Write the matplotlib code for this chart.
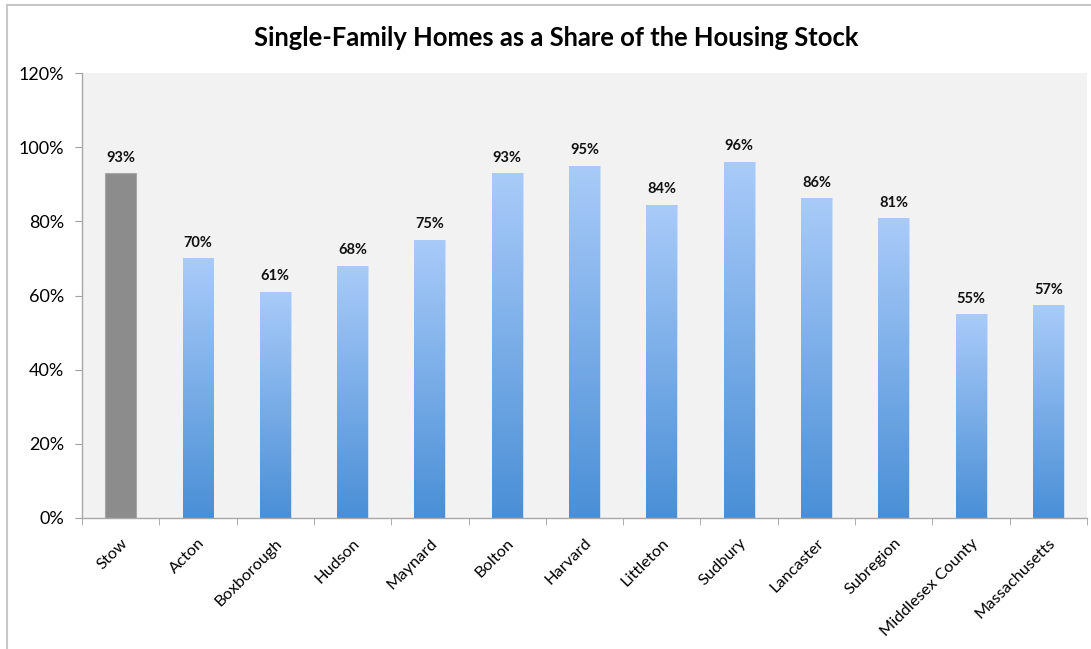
import matplotlib
matplotlib.use("Agg")
import matplotlib.pyplot as plt
import numpy as np
from matplotlib.colors import LinearSegmentedColormap
from matplotlib.lines import Line2D

categories = ["Stow", "Acton", "Boxborough", "Hudson", "Maynard", "Bolton", "Harvard",
              "Littleton", "Sudbury", "Lancaster", "Subregion", "Middlesex County", "Massachusetts"]
values = [93, 70, 61, 68, 75, 93, 95, 84.5, 96, 86.2, 80.8, 55, 57.4]
labels = ["93%", "70%", "61%", "68%", "75%", "93%", "95%", "84%", "96%", "86%", "81%", "55%", "57%"]
yticks = [0, 20, 40, 60, 80, 100, 120]

plt.rcParams['font.family'] = ['Lato', 'DejaVu Sans']

fig = plt.figure(figsize=(10.91, 6.49), dpi=100)
ax = fig.add_axes([82/1091, 1-518/649, 1005/1091, 445/649])
ax.set_facecolor('#f2f2f2')

x = np.arange(len(categories))
width = 0.4
cmap = LinearSegmentedColormap.from_list('g', ['#4a8fd6', '#a9cbf9'])
grad = np.linspace(0, 1, 256).reshape(-1, 1)

bars = ax.bar(x, values, width=width, color='none', edgecolor='none', zorder=2)
for i, (b, v) in enumerate(zip(bars, values)):
    if i == 0:
        b.set_facecolor('#8c8c8c')
        b.set_edgecolor('#a8a8a8')
        b.set_linewidth(0.8)
    else:
        im = ax.imshow(grad, cmap=cmap, origin='lower', aspect='auto',
                       extent=[b.get_x(), b.get_x() + b.get_width(), 0, v], zorder=2)
        im.set_clip_path(b)
        b.set_edgecolor('#c4dafa')
        b.set_linewidth(0.6)
    ax.text(i, v + 2.3, labels[i], ha='center', va='bottom', fontsize=10.5,
            fontweight='bold', color='#111111', zorder=3)

ax.set_xlim(-0.5, len(categories) - 0.5)
ax.set_ylim(0, 120)
ax.set_yticks(yticks)
ax.set_yticklabels([f"{t}%" for t in yticks], fontsize=13)
ax.set_xticks(x)
ax.set_xticklabels(categories, rotation=45, ha='right', rotation_mode='anchor', fontsize=11.8)
ax.tick_params(axis='x', which='major', length=0, pad=13)
ax.set_xticks(np.arange(-0.5, len(categories)), minor=True)
ax.tick_params(axis='x', which='minor', length=5, color='#a0a0a0', direction='out')
ax.tick_params(axis='y', length=5, color='#a0a0a0', direction='out', pad=8)
for s in ['top', 'right']:
    ax.spines[s].set_visible(False)
for s in ['left', 'bottom']:
    ax.spines[s].set_color('#a8a8a8')
    ax.spines[s].set_linewidth(1.0)

fig.text(556/1091, 1-38/649, "Single-Family Homes as a Share of the Housing Stock",
         ha='center', va='center', fontsize=18.4, fontweight='bold', color='#000000')

# outer frame lines
fig.add_artist(Line2D([7/1091, 7/1091], [0, 1-5/649], transform=fig.transFigure,
                      color='#c8c8c8', linewidth=1.5))
fig.add_artist(Line2D([7/1091, 1], [1-5/649, 1-5/649], transform=fig.transFigure,
                      color='#c8c8c8', linewidth=1.5))

fig.savefig('out.png', dpi=100)
